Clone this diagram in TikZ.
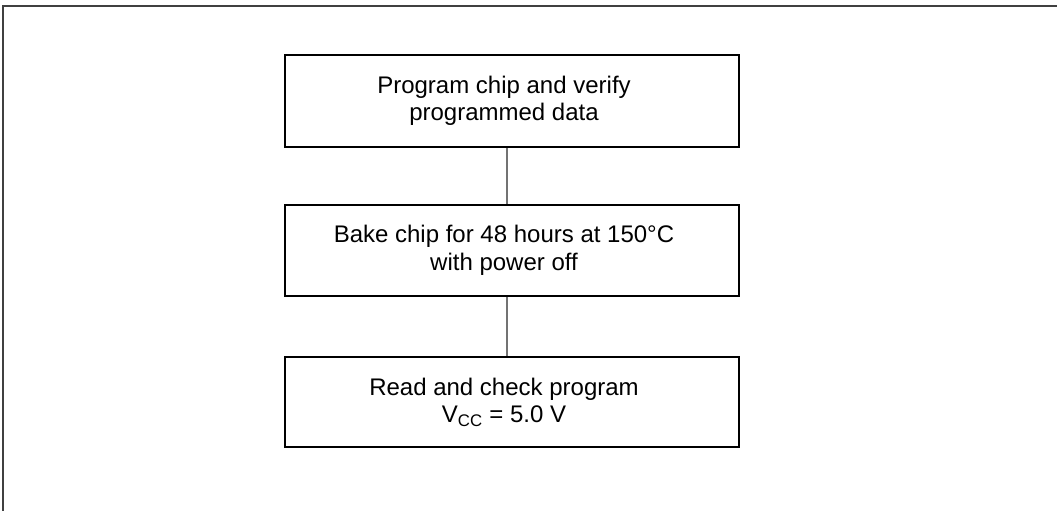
\documentclass[tikz,border=0pt]{standalone}
\usepackage{fontspec}
\setmainfont{Liberation Sans}
\begin{document}
\begin{tikzpicture}[x=1pt,y=-1pt,
  stepbox/.style={draw=black, line width=1.5pt, minimum width=454pt, inner sep=0pt},
  steptext/.style={align=center, font=\fontsize{24}{27.5}\selectfont, inner sep=0pt},
  link/.style={draw=black!55, line width=1.2pt},
  frame/.style={draw=black!75, line width=2pt}]
\useasboundingbox (0,0) rectangle (1057,511);
\draw[frame] (2.5,511) -- (2.5,6.5) -- (1057,6.5);
\node[stepbox, minimum height=92pt] (b1) at (512,101) {};
\node[stepbox, minimum height=91pt] (b2) at (512,250.5) {};
\node[stepbox, minimum height=90pt] (b3) at (512,402) {};
\node[steptext] (t1) at ([xshift=-8pt]b1.center) {Program chip and verify\\programmed data};
\node[steptext] (t2) at ([xshift=-8pt]b2.center) {Bake chip for 48 hours at 150°C\\with power off};
\node[steptext] (t3) at ([xshift=-8pt]b3.center) {Read and check program\\V\textsubscript{CC} = 5.0 V};
\draw[link] ([xshift=-5pt]b1.south) -- ([xshift=-5pt]b2.north);
\draw[link] ([xshift=-5pt]b2.south) -- ([xshift=-5pt]b3.north);
\end{tikzpicture}
\end{document}
